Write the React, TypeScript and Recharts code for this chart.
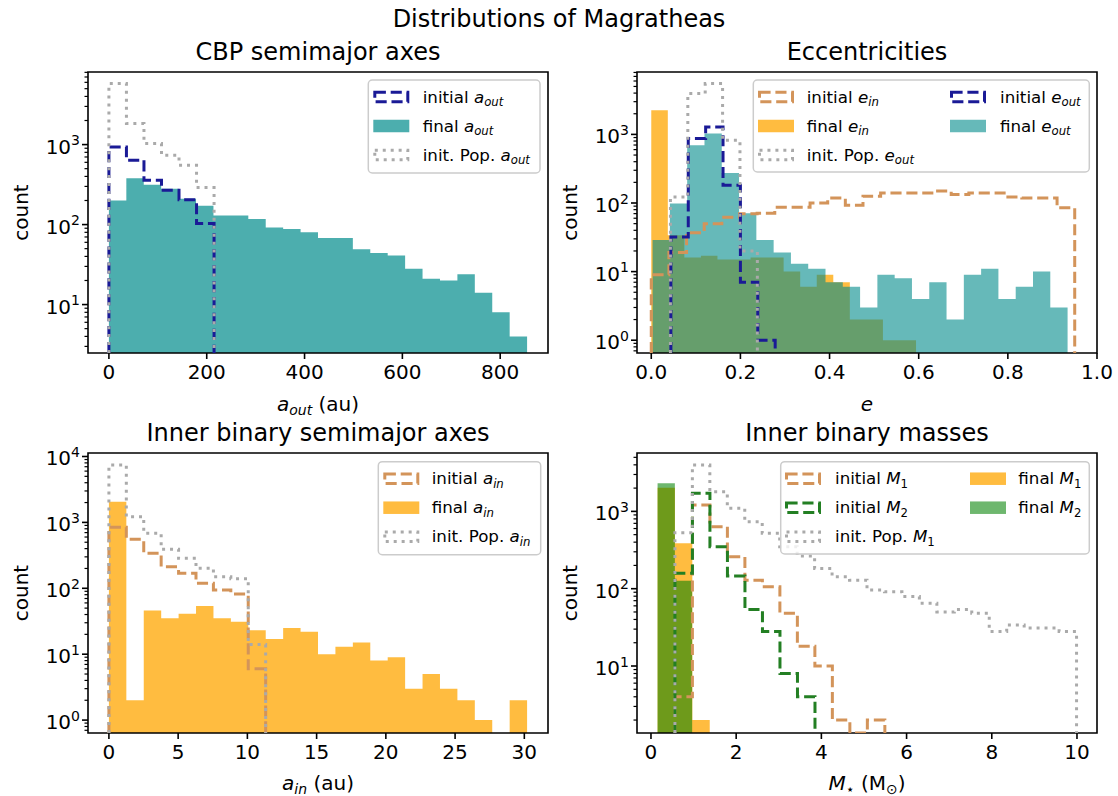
import React from 'react';
import { ComposedChart, Area, Line, XAxis, YAxis, ReferenceArea } from 'recharts';

const FONT = '"DejaVu Sans", Verdana, sans-serif';

const NAVY = '#1a1a96';
const PERU = '#d3945a';
const GRAY = '#aaaaaa';
const DKGREEN = '#237f23';
const DARKCYAN = '#008b8b';
const ORANGE = '#ffa500';
const GREEN = '#008000';

// ---------- CBP semimajor axes (au) ----------
const AOUT_FINAL_RANGE: [number, number] = [0, 855];
const AOUT_FINAL = [200, 380, 315, 280, 210, 172, 130, 130, 117, 92, 88, 80, 68, 68, 49, 44, 41, 28, 21, 20, 24, 14, 8, 4];
const AOUT_INIT_RANGE: [number, number] = [0, 215];
const AOUT_INIT = [933, 637, 358, 268, 205, 103];
const AOUT_POP_RANGE: [number, number] = [0, 215];
const AOUT_POP = [5790, 1830, 1030, 735, 550, 290];

// ---------- Eccentricities ----------
const EIN_INIT_RANGE: [number, number] = [0, 0.95];
const EIN_INIT = [9, 19, 37, 50, 62, 70, 71, 87, 87, 100, 118, 93, 125, 140, 140, 140, 150, 133, 140, 140, 122, 118, 118, 85];
const EIN_FINAL_RANGE: [number, number] = [0, 0.594];
const EIN_FINAL = [2250, 34, 16, 17, 15, 15, 16, 16, 10, 6, 9, 7, 2, 2, 1, 1];
const EOUT_INIT_RANGE: [number, number] = [0.044, 0.278];
const EOUT_INIT = [32, 870, 1280, 181, 7, 1];
const EOUT_FINAL_RANGE: [number, number] = [0.003, 0.934];
const EOUT_FINAL = [29, 98, 693, 1028, 274, 71, 29, 19, 13, 11, 7, 6, 3, 9, 8, 4, 7, 2, 9, 11, 4, 6, 10, 3];
const EOUT_POP_RANGE: [number, number] = [0.043, 0.238];
const EOUT_POP = [122, 3930, 5500, 820, 20];

// ---------- Inner binary semimajor axes (au) ----------
const AIN_FINAL_RANGE: [number, number] = [0, 30.2];
const AIN_FINAL = [2060, 2, 46, 35, 41, 54, 35, 31, 23, 17, 25, 22, 10, 13, 15, 8, 9, 3, 5, 3, 2, 1, 0, 2];
const AIN_INIT_RANGE: [number, number] = [0, 11.32];
const AIN_INIT = [843, 554, 340, 213, 169, 119, 94, 82, 6];
const AIN_POP_RANGE: [number, number] = [0, 11.32];
const AIN_POP = [7430, 1220, 683, 391, 285, 201, 150, 140, 14];

// ---------- Inner binary masses (Msun) ----------
const M1_FINAL_RANGE: [number, number] = [0.155, 1.379];
const M1_FINAL = [2023, 386, 2];
const M2_FINAL_RANGE: [number, number] = [0.155, 0.967];
const M2_FINAL = [2308, 127];
const M1_INIT_RANGE: [number, number] = [0.562, 5.49];
const M1_INIT = [4, 1208, 634, 259, 129, 106, 48, 18, 10, 2, 0, 2];
const M2_INIT_RANGE: [number, number] = [0.562, 3.85];
const M2_INIT = [158, 1714, 349, 146, 54, 28, 8, 4];
const M1_POP_RANGE: [number, number] = [0.562, 9.99];
const M1_POP = [530, 3980, 1800, 1096, 735, 520, 349, 265, 183, 143, 129, 96, 91, 79, 65, 50, 54, 48, 28, 34, 31, 31, 28];

// ---------- axis ticks ----------
const AOUT_TICKS = [0, 200, 400, 600, 800];
const E_TICKS = [0, 0.2, 0.4, 0.6, 0.8, 1.0];
const AIN_TICKS = [0, 5, 10, 15, 20, 25, 30];
const M_TICKS = [0, 2, 4, 6, 8, 10];

function logTicks(lo: number, hi: number) {
  const out: number[] = [];
  for (let e = -2; e <= 5; e++) {
    for (let m = 1; m <= 9; m++) {
      const v = m * Math.pow(10, e);
      if (v >= lo && v <= hi) out.push(v);
    }
  }
  return out;
}

function stepFill(range: [number, number], counts: number[], floor: number) {
  const n = counts.length;
  const w = (range[1] - range[0]) / n;
  const pts = counts.map((c, i) => ({ x: range[0] + i * w, y: c > 0 ? c : floor }));
  pts.push({ x: range[1], y: counts[n - 1] > 0 ? counts[n - 1] : floor });
  return pts;
}

function stepOutline(range: [number, number], counts: number[], floor: number) {
  const n = counts.length;
  const w = (range[1] - range[0]) / n;
  const pts = [{ x: range[0], y: floor }];
  counts.forEach((c, i) => pts.push({ x: range[0] + i * w, y: c > 0 ? c : floor }));
  pts.push({ x: range[1], y: floor });
  return pts;
}

const LogTick = (props: any) => {
  const { x, y, payload } = props;
  const v = payload.value;
  const lg = Math.log10(v);
  const e = Math.round(lg);
  const major = Math.abs(lg - e) < 1e-6;
  return (
    <g>
      <line x1={x - (major ? 6 : 3.5)} x2={x} y1={y} y2={y} stroke="#000" strokeWidth={major ? 1.6 : 1.2} />
      {major && (
        <text x={x - 8} y={y + 9} textAnchor="end" fontSize={20} fontFamily={FONT} fill="#000">
          10<tspan fontSize={14} dy={-8.5}>{e}</tspan>
        </text>
      )}
    </g>
  );
};

type S = { range: [number, number]; counts: number[]; color: string; alpha?: number; style?: 'dash' | 'dot' };

function Panel(p: {
  frame: { left: number; top: number; w: number; h: number };
  xDomain: [number, number];
  xTicks: number[];
  xFmt: (v: number) => string;
  yDomain: [number, number];
  fills: S[];
  outlines: S[];
}) {
  const { frame, xDomain, xTicks, xFmt, yDomain, fills, outlines } = p;
  const floor = yDomain[0];
  return (
    <div style={{ position: 'absolute', left: frame.left - 80, top: frame.top - 10 }}>
      <ComposedChart width={frame.w + 120} height={frame.h + 60} margin={{ top: 10, right: 40, bottom: 0, left: 0 }}>
        <XAxis
          type="number"
          dataKey="x"
          domain={xDomain}
          ticks={xTicks}
          interval={0}
          allowDataOverflow
          tickFormatter={xFmt}
          tickSize={6}
          tickMargin={6}
          axisLine={false}
          tickLine={{ stroke: '#000', strokeWidth: 1.6 }}
          tick={{ fill: '#000', fontSize: 20, fontFamily: FONT }}
          height={50}
        />
        <YAxis
          type="number"
          scale="log"
          domain={yDomain}
          allowDataOverflow
          ticks={logTicks(yDomain[0], yDomain[1])}
          interval={0}
          tick={(tp: any) => <LogTick {...tp} />}
          tickLine={false}
          axisLine={false}
          tickSize={0}
          tickMargin={0}
          width={80}
        />
        {fills.map((s, i) => (
          <Area
            key={'f' + i}
            data={stepFill(s.range, s.counts, floor)}
            dataKey="y"
            type="stepAfter"
            stroke="none"
            fill={s.color}
            fillOpacity={s.alpha}
            baseValue={floor}
            isAnimationActive={false}
            dot={false}
            activeDot={false}
          />
        ))}
        {outlines.map((s, i) => (
          <Line
            key={'l' + i}
            data={stepOutline(s.range, s.counts, floor)}
            dataKey="y"
            type="stepAfter"
            stroke={s.color}
            strokeWidth={3}
            strokeDasharray={s.style === 'dot' ? '3 4.95' : '11.1 4.8'}
            dot={false}
            activeDot={false}
            isAnimationActive={false}
          />
        ))}
        <ReferenceArea
          x1={xDomain[0]}
          x2={xDomain[1]}
          y1={yDomain[0]}
          y2={yDomain[1]}
          fill="none"
          fillOpacity={0}
          stroke="#000"
          strokeWidth={1.6}
          ifOverflow="visible"
        />
      </ComposedChart>
    </div>
  );
}

type LE = { kind: 'dash' | 'dot' | 'fill'; color: string; alpha?: number; pre: string; sym: string; sub: string; subItalic: boolean };

function MathText(props: { x: number; y: number; size: number; pre: string; sym: string; sub: string; subItalic: boolean; anchor?: string; post?: string }) {
  const { x, y, size, pre, sym, sub, subItalic, anchor, post } = props;
  const d = size * 0.21;
  return (
    <text x={x} y={y} fontSize={size} fontFamily={FONT} fill="#000" textAnchor={anchor || 'start'}>
      {pre}
      <tspan fontStyle="italic">{sym}</tspan>
      <tspan fontStyle={subItalic ? 'italic' : 'normal'} fontSize={size * 0.7} dy={d}>
        {sub}
      </tspan>
      {post ? <tspan dy={-d}>{post}</tspan> : null}
    </text>
  );
}

function Handle({ x, cy, e }: { x: number; cy: number; e: LE }) {
  const w = 36;
  const h = 12.5;
  if (e.kind === 'fill') return <rect x={x} y={cy - h / 2} width={w} height={h} fill={e.color} fillOpacity={e.alpha} />;
  return (
    <rect
      x={x + 1.5}
      y={cy - h / 2 + 1.5}
      width={w - 3}
      height={h - 3}
      fill="none"
      stroke={e.color}
      strokeWidth={3}
      strokeDasharray={e.kind === 'dot' ? '3 4.95' : '11.1 4.8'}
    />
  );
}

function LegendBox({ box, cols }: { box: { x: number; y: number; w: number; h: number }; cols: { hx: number; tx: number; entries: LE[] }[] }) {
  return (
    <g>
      <rect x={box.x} y={box.y} width={box.w} height={box.h} rx={4} fill="#fff" fillOpacity={0.8} stroke="#cccccc" strokeWidth={1.5} />
      {cols.map((c, ci) =>
        c.entries.map((e, ri) => {
          const cy = box.y + 17 + ri * 29;
          return (
            <g key={ci + '-' + ri}>
              <Handle x={c.hx} cy={cy} e={e} />
              <MathText x={c.tx} y={cy + 5.5} size={16.7} pre={e.pre} sym={e.sym} sub={e.sub} subItalic={e.subItalic} />
            </g>
          );
        })
      )}
    </g>
  );
}

const TL = { left: 88, top: 72, w: 460, h: 281 };
const TR = { left: 637, top: 72, w: 460, h: 281 };
const BL = { left: 88, top: 453, w: 460, h: 280 };
const BR = { left: 637, top: 453, w: 460, h: 280 };

export default function App() {
  return (
    <div style={{ position: 'absolute', left: 0, top: 0, width: 1118, height: 796, background: '#fff', fontFamily: FONT, overflow: 'hidden' }}>
      <Panel
        frame={TL}
        xDomain={[-42.75, 897.75]}
        xTicks={AOUT_TICKS}
        xFmt={(v) => String(v)}
        yDomain={[2.48, 8080]}
        fills={[{ range: AOUT_FINAL_RANGE, counts: AOUT_FINAL, color: DARKCYAN, alpha: 0.7 }]}
        outlines={[
          { range: AOUT_INIT_RANGE, counts: AOUT_INIT, color: NAVY, style: 'dash' },
          { range: AOUT_POP_RANGE, counts: AOUT_POP, color: GRAY, style: 'dot' },
        ]}
      />
      <Panel
        frame={TR}
        xDomain={[-0.032, 1.0]}
        xTicks={E_TICKS}
        xFmt={(v) => v.toFixed(1)}
        yDomain={[0.651, 8120]}
        fills={[
          { range: EIN_FINAL_RANGE, counts: EIN_FINAL, color: ORANGE, alpha: 0.75 },
          { range: EOUT_FINAL_RANGE, counts: EOUT_FINAL, color: DARKCYAN, alpha: 0.6 },
        ]}
        outlines={[
          { range: EIN_INIT_RANGE, counts: EIN_INIT, color: PERU, style: 'dash' },
          { range: EOUT_INIT_RANGE, counts: EOUT_INIT, color: NAVY, style: 'dash' },
          { range: EOUT_POP_RANGE, counts: EOUT_POP, color: GRAY, style: 'dot' },
        ]}
      />
      <Panel
        frame={BL}
        xDomain={[-1.51, 31.71]}
        xTicks={AIN_TICKS}
        xFmt={(v) => String(v)}
        yDomain={[0.637, 11300]}
        fills={[{ range: AIN_FINAL_RANGE, counts: AIN_FINAL, color: ORANGE, alpha: 0.75 }]}
        outlines={[
          { range: AIN_INIT_RANGE, counts: AIN_INIT, color: PERU, style: 'dash' },
          { range: AIN_POP_RANGE, counts: AIN_POP, color: GRAY, style: 'dot' },
        ]}
      />
      <Panel
        frame={BR}
        xDomain={[-0.328, 10.47]}
        xTicks={M_TICKS}
        xFmt={(v) => String(v)}
        yDomain={[1.36, 5690]}
        fills={[
          { range: M1_FINAL_RANGE, counts: M1_FINAL, color: ORANGE, alpha: 0.75 },
          { range: M2_FINAL_RANGE, counts: M2_FINAL, color: GREEN, alpha: 0.57 },
        ]}
        outlines={[
          { range: M1_INIT_RANGE, counts: M1_INIT, color: PERU, style: 'dash' },
          { range: M2_INIT_RANGE, counts: M2_INIT, color: DKGREEN, style: 'dash' },
          { range: M1_POP_RANGE, counts: M1_POP, color: GRAY, style: 'dot' },
        ]}
      />
      <svg width={1118} height={796} style={{ position: 'absolute', left: 0, top: 0, pointerEvents: 'none' }}>
        <text x={559} y={27} textAnchor="middle" fontSize={24} fontFamily={FONT} fill="#000">Distributions of Magratheas</text>
        <text x={318} y={59.7} textAnchor="middle" fontSize={24} fontFamily={FONT} fill="#000">CBP semimajor axes</text>
        <text x={867} y={59.7} textAnchor="middle" fontSize={24} fontFamily={FONT} fill="#000">Eccentricities</text>
        <text x={318} y={440.7} textAnchor="middle" fontSize={24} fontFamily={FONT} fill="#000">Inner binary semimajor axes</text>
        <text x={867} y={440.7} textAnchor="middle" fontSize={24} fontFamily={FONT} fill="#000">Inner binary masses</text>

        <text transform="translate(28,212.5) rotate(-90)" textAnchor="middle" fontSize={20} fontFamily={FONT} fill="#000">count</text>
        <text transform="translate(577,212.5) rotate(-90)" textAnchor="middle" fontSize={20} fontFamily={FONT} fill="#000">count</text>
        <text transform="translate(28,593) rotate(-90)" textAnchor="middle" fontSize={20} fontFamily={FONT} fill="#000">count</text>
        <text transform="translate(577,593) rotate(-90)" textAnchor="middle" fontSize={20} fontFamily={FONT} fill="#000">count</text>

        <MathText x={318} y={410.5} size={20} pre="" sym="a" sub="out" subItalic post=" (au)" anchor="middle" />
        <text x={867} y={410.5} textAnchor="middle" fontSize={20} fontFamily={FONT} fill="#000" fontStyle="italic">e</text>
        <MathText x={318} y={789.5} size={20} pre="" sym="a" sub="in" subItalic post=" (au)" anchor="middle" />
        <text x={867} y={789.5} textAnchor="middle" fontSize={20} fontFamily={FONT} fill="#000">
          <tspan fontStyle="italic">M</tspan>
          <tspan fontSize={14} dy={4}>⋆</tspan>
          <tspan dy={-4}> (M</tspan>
          <tspan fontSize={14} dy={4}>⊙</tspan>
          <tspan dy={-4}>)</tspan>
        </text>

        <LegendBox
          box={{ x: 368.3, y: 80, w: 171.7, h: 93 }}
          cols={[
            {
              hx: 373.3,
              tx: 422.7,
              entries: [
                { kind: 'dash', color: NAVY, pre: 'initial ', sym: 'a', sub: 'out', subItalic: true },
                { kind: 'fill', color: DARKCYAN, alpha: 0.7, pre: 'final ', sym: 'a', sub: 'out', subItalic: true },
                { kind: 'dot', color: GRAY, pre: 'init. Pop. ', sym: 'a', sub: 'out', subItalic: true },
              ],
            },
          ]}
        />
        <LegendBox
          box={{ x: 753.3, y: 80, w: 336, h: 92 }}
          cols={[
            {
              hx: 758,
              tx: 806.7,
              entries: [
                { kind: 'dash', color: PERU, pre: 'initial ', sym: 'e', sub: 'in', subItalic: true },
                { kind: 'fill', color: ORANGE, alpha: 0.75, pre: 'final ', sym: 'e', sub: 'in', subItalic: true },
                { kind: 'dot', color: GRAY, pre: 'init. Pop. ', sym: 'e', sub: 'out', subItalic: true },
              ],
            },
            {
              hx: 950,
              tx: 1000,
              entries: [
                { kind: 'dash', color: NAVY, pre: 'initial ', sym: 'e', sub: 'out', subItalic: true },
                { kind: 'fill', color: DARKCYAN, alpha: 0.6, pre: 'final ', sym: 'e', sub: 'out', subItalic: true },
              ],
            },
          ]}
        />
        <LegendBox
          box={{ x: 378.3, y: 461.7, w: 162.4, h: 93 }}
          cols={[
            {
              hx: 383.3,
              tx: 431.7,
              entries: [
                { kind: 'dash', color: PERU, pre: 'initial ', sym: 'a', sub: 'in', subItalic: true },
                { kind: 'fill', color: ORANGE, alpha: 0.75, pre: 'final ', sym: 'a', sub: 'in', subItalic: true },
                { kind: 'dot', color: GRAY, pre: 'init. Pop. ', sym: 'a', sub: 'in', subItalic: true },
              ],
            },
          ]}
        />
        <LegendBox
          box={{ x: 780.7, y: 461.7, w: 308.6, h: 92.3 }}
          cols={[
            {
              hx: 785,
              tx: 835,
              entries: [
                { kind: 'dash', color: PERU, pre: 'initial ', sym: 'M', sub: '1', subItalic: false },
                { kind: 'dash', color: DKGREEN, pre: 'initial ', sym: 'M', sub: '2', subItalic: false },
                { kind: 'dot', color: GRAY, pre: 'init. Pop. ', sym: 'M', sub: '1', subItalic: false },
              ],
            },
            {
              hx: 970,
              tx: 1018.3,
              entries: [
                { kind: 'fill', color: ORANGE, alpha: 0.75, pre: 'final ', sym: 'M', sub: '1', subItalic: false },
                { kind: 'fill', color: GREEN, alpha: 0.57, pre: 'final ', sym: 'M', sub: '2', subItalic: false },
              ],
            },
          ]}
        />
      </svg>
    </div>
  );
}
